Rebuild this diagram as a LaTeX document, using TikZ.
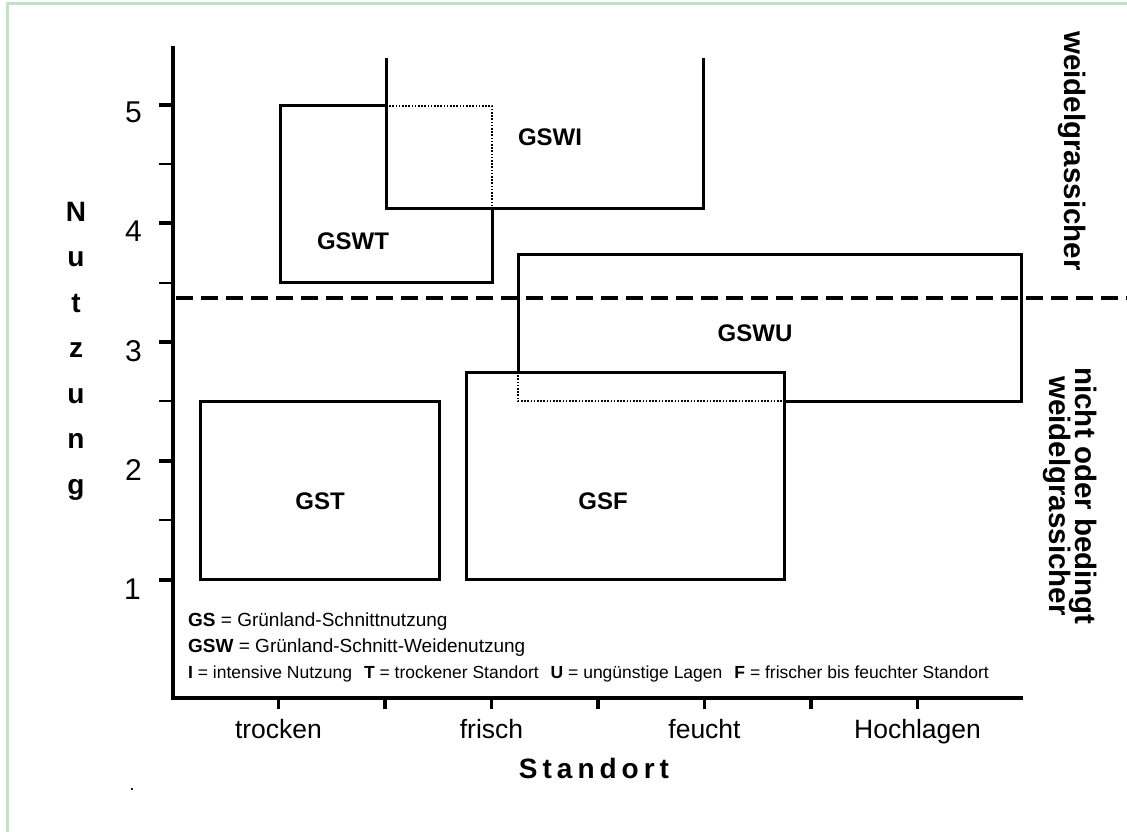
\documentclass[tikz,border=0pt]{standalone}
\usepackage{fontspec}
\setmainfont{Liberation Sans}
\definecolor{framegreen}{RGB}{192,226,200}
\tikzset{
  frameline/.style={draw=framegreen, line width=3pt},
  boxline/.style={line width=3pt, line join=miter, line cap=rect},
  dotline/.style={line width=2pt, dash pattern=on 1.6pt off 1.6pt},
  axisline/.style={line width=4.5pt},
  majtick/.style={line width=4pt},
  mintick/.style={line width=2.6pt},
  limitline/.style={line width=4pt, dash pattern=on 17pt off 8pt},
  boxlabel/.style={inner sep=0pt, font=\fontsize{24}{28}\selectfont\bfseries},
  ticklab/.style={inner sep=0pt, font=\fontsize{30}{34}\selectfont},
  catlab/.style={inner sep=0pt, anchor=base, font=\fontsize{26.5}{31}\selectfont},
  axistitle/.style={inner sep=0pt, font=\fontsize{28}{45.5}\selectfont\bfseries},
  sidetext/.style={inner sep=0pt, rotate=-90, align=center,
    font=\fontsize{29.5}{26}\selectfont\bfseries},
  legend/.style={inner sep=0pt, anchor=base west, font=\fontsize{19}{23}\selectfont},
  legendsmall/.style={inner sep=0pt, anchor=base west, font=\fontsize{17.5}{21}\selectfont},
}
\newcommand{\lsp}{\hspace{5pt}}
\begin{document}
\begin{tikzpicture}[x=1pt,y=-1pt]
\useasboundingbox (0,0) rectangle (1127,832);
\fill[white] (0,0) rectangle (1127,832);
% frame
\draw[frameline] (7,840) -- (7,4) -- (1135,4);

% boxes
% GSWI (open at top)
\draw[boxline] (386,60) -- (386,208) -- (703,208) -- (703,60);
% GSWT
\draw[boxline] (386,106) -- (280,106) -- (280,282) -- (492,282) -- (492,208);
\draw[dotline] (386,106) -- (492,106) -- (492,208);
% GSWU
\draw[boxline] (518,372) -- (518,254) -- (1021,254) -- (1021,401) -- (784,401);
\draw[dotline] (518,372) -- (518,401) -- (784,401);
% GSF
\draw[boxline] (466,372) rectangle (784,579);
% GST
\draw[boxline] (200,401) rectangle (439,579);

% limit line
\draw[limitline] (176,298) -- (1130,298);

% axes
\draw[axisline] (173,46) -- (173,700.25);
\draw[axisline] (170.75,698) -- (1023,698);
% y ticks
\foreach \yy in {105,223,342,461,580} \draw[majtick] (159,\yy) -- (173,\yy);
\foreach \yy in {164,283,401,520} \draw[mintick] (159,\yy) -- (173,\yy);
% x ticks
\foreach \xx in {385,598,811} \draw[axisline] (\xx,698) -- (\xx,709);
\foreach \xx in {278.5,491.5,704.5,917.5} \draw[mintick] (\xx,698) -- (\xx,709);

% y tick labels
\node[ticklab, anchor=north east] (y5) at (142,102) {5};
\node[ticklab, anchor=north east] (y4) at (142,221) {4};
\node[ticklab, anchor=north east] (y3) at (142,340) {3};
\node[ticklab, anchor=north east] (y2) at (142,459) {2};
\node[ticklab, anchor=north east] (y1) at (141,579) {1};

% x category labels
\node[catlab] (c1) at (278.5,738) {trocken};
\node[catlab] (c2) at (491.5,738) {frisch};
\node[catlab] (c3) at (704.5,738) {feucht};
\node[catlab] (c4) at (917.5,738) {Hochlagen};

% axis titles
\node[axistitle, anchor=base] (xt) at (594,778) {S\lsp t\lsp a\lsp n\lsp d\lsp o\lsp r\lsp t};
\node[axistitle, anchor=north, align=center] (yt) at (76,202) {N\\u\\t\\z\\u\\n\\g};

% box labels
\node[boxlabel] (lGSWI) at (550,137) {GSWI};
\node[boxlabel] (lGSWT) at (353,241) {GSWT};
\node[boxlabel] (lGSWU) at (755,333) {GSWU};
\node[boxlabel] (lGST) at (320,501) {GST};
\node[boxlabel] (lGSF) at (603,501) {GSF};

% side texts
\node[sidetext] (s1) at (1072,151) {weidelgrassicher};
\node[sidetext] (s2) at (1070,496) {nicht oder bedingt\\[-2pt]weidelgrassicher};

% legend
\node[legend] (g1) at (188,626) {\textbf{GS} = Grünland-Schnittnutzung};
\node[legend] (g2) at (188,652) {\textbf{GSW} = Grünland-Schnitt-Weidenutzung};
\node[legendsmall] (g3) at (188,678) {\textbf{I} = intensive Nutzung\hspace{12pt}\textbf{T} = trockener Standort\hspace{12pt}\textbf{U} = ungünstige Lagen\hspace{12pt}\textbf{F} = frischer bis feuchter Standort};

% stray dot
\node[legend, anchor=base] (dot) at (132,790) {.};
\end{tikzpicture}
\end{document}
